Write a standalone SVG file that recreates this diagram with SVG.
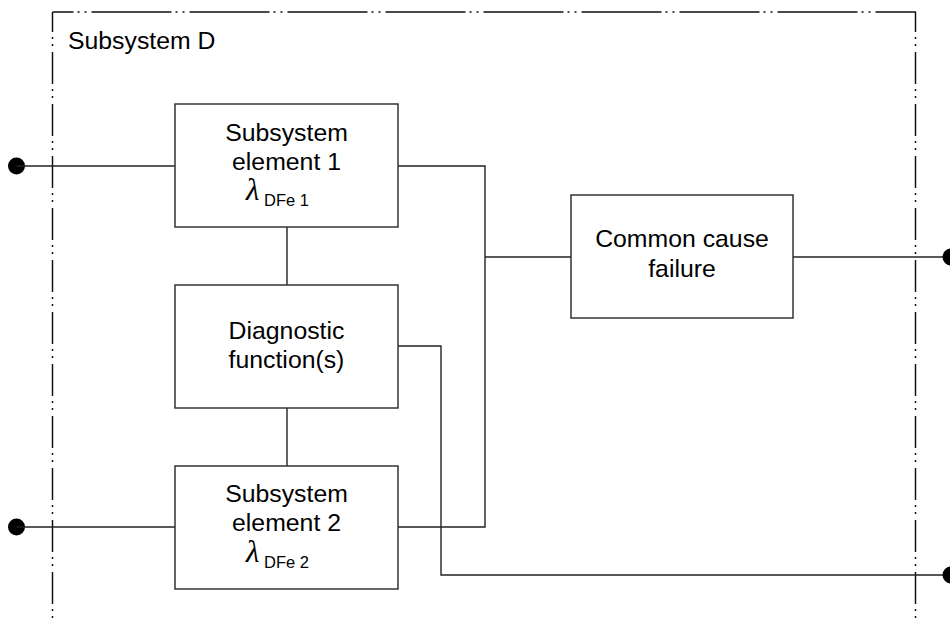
<svg xmlns="http://www.w3.org/2000/svg" width="950" height="618" viewBox="0 0 950 618">
<style>
.frameh{fill:none;stroke:#111;stroke-width:1.5;stroke-dasharray:80 4 2 5 2 5}
.framev{fill:none;stroke:#111;stroke-width:1.5;stroke-dasharray:32 5 2 5 2 6}
.box{fill:#fff;stroke:#333;stroke-width:1.5}
.ln{fill:none;stroke:#222;stroke-width:1.4}
.dot{fill:#000}
.t{font-family:"Liberation Sans",Arial,sans-serif;font-size:24.8px;fill:#000;text-anchor:middle}
.lab{font-family:"Liberation Sans",Arial,sans-serif;font-size:24.8px;fill:#000}
.lam{font-family:"Liberation Serif","Times New Roman",serif;font-style:italic;font-size:31px;fill:#000}
.sub{font-family:"Liberation Sans",Arial,sans-serif;font-size:16.5px;fill:#000}
</style>
<rect width="950" height="618" fill="#fff"/>
<g id="frame">
<line class="frameh" x1="52.5" y1="12" x2="916" y2="12" stroke-dashoffset="59"/>
<line class="framev" x1="52.5" y1="12" x2="52.5" y2="618" stroke-dashoffset="12"/>
<line class="framev" x1="915.5" y1="12" x2="915.5" y2="618" stroke-dashoffset="12"/>
<text class="lab" x="68" y="49">Subsystem D</text>
</g>
<g id="connectors">
<circle class="dot" cx="16.5" cy="166" r="8.5"/>
<line class="ln" x1="16.5" y1="166" x2="175" y2="166"/>
<circle class="dot" cx="16.5" cy="527" r="8.5"/>
<line class="ln" x1="16.5" y1="527" x2="175" y2="527"/>
<polyline class="ln" points="398,166 485,166 485,527 398,527"/>
<line class="ln" x1="485" y1="257" x2="571" y2="257"/>
<line class="ln" x1="793" y1="257" x2="950" y2="257"/>
<circle class="dot" cx="951" cy="257" r="8.5"/>
<line class="ln" x1="287" y1="227" x2="287" y2="285"/>
<line class="ln" x1="287" y1="408" x2="287" y2="466"/>
<polyline class="ln" points="398,346 441,346 441,575 950,575"/>
<circle class="dot" cx="951" cy="575" r="8.5"/>
</g>
<g id="element1">
<rect class="box" x="175" y="104" width="223" height="123"/>
<text class="t" x="286.5" y="141">Subsystem</text>
<text class="t" x="286.5" y="170">element 1</text>
<text class="lam" x="246" y="200">λ</text>
<text class="sub" x="264" y="206">DFe 1</text>
</g>
<g id="diagnostic">
<rect class="box" x="175" y="285" width="223" height="123"/>
<text class="t" x="286.5" y="339">Diagnostic</text>
<text class="t" x="286.5" y="368">function(s)</text>
</g>
<g id="element2">
<rect class="box" x="175" y="466" width="223" height="123"/>
<text class="t" x="286.5" y="502">Subsystem</text>
<text class="t" x="286.5" y="531">element 2</text>
<text class="lam" x="246" y="562">λ</text>
<text class="sub" x="264" y="568">DFe 2</text>
</g>
<g id="ccf">
<rect class="box" x="571" y="195" width="222" height="123"/>
<text class="t" x="682" y="247">Common cause</text>
<text class="t" x="682" y="277">failure</text>
</g>
</svg>
